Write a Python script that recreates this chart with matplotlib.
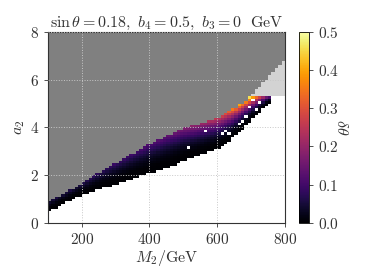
import numpy as np
import matplotlib
matplotlib.use("Agg")
import matplotlib.pyplot as plt
from matplotlib.colors import ListedColormap

plt.rcParams['font.family'] = 'serif'
plt.rcParams['font.serif'] = ['cmr10', 'DejaVu Serif']
plt.rcParams['mathtext.fontset'] = 'cm'
plt.rcParams['axes.formatter.use_mathtext'] = True

# Boundaries
m2_nodes = [100, 150, 200, 250, 300, 350, 400, 450, 500, 550, 600, 650, 700, 750, 800]
a2_upper = [0.85, 1.25, 1.65, 2.1, 2.5, 2.9, 3.3, 3.65, 3.95, 4.15, 4.4, 4.8, 5.3, 5.3, 5.3]
a2_lower = [0.45, 0.85, 1.15, 1.4, 1.6, 1.85, 2.08, 2.3, 2.6, 2.85, 3.1, 3.6, 4.3, 5.0, 5.3]
dtheta_top = [0.05, 0.06, 0.07, 0.08, 0.09, 0.10, 0.12, 0.14, 0.17, 0.21, 0.27, 0.37, 0.47, 0.17, 0.15]
light_nodes = [695, 800]
light_top = [5.3, 6.85]
holes_m2 = [520, 565, 615, 629, 638, 661, 671, 688, 706, 726, 697, 717]
holes_a2 = [3.2, 3.9, 3.8, 3.9, 3.75, 4.2, 4.3, 4.5, 5.2, 5.1, 4.85, 4.8]

m_edges = np.arange(100, 801, 10)
a_edges = np.arange(0, 8.01, 0.1)
mc = 0.5 * (m_edges[:-1] + m_edges[1:])
ac = 0.5 * (a_edges[:-1] + a_edges[1:])
M, A = np.meshgrid(mc, ac)

UP = np.interp(M, m2_nodes, a2_upper)
LO = np.interp(M, m2_nodes, a2_lower)
LT = np.interp(M, light_nodes, light_top)
DT = np.interp(M, m2_nodes, dtheta_top)

cat = np.ones_like(M)  # 1 = gray
colored = (A >= LO) & (A <= UP) & (M <= 762)
cat[A < LO] = 0
cat[(M > 762) & (A < 5.4)] = 0
light = (M >= 695) & (A > 5.3) & (A <= LT)
cat[light] = 2
cat[colored] = 0

frac = np.clip((A - LO) / np.maximum(UP - LO, 1e-6), 0, 1)
dtheta = DT * frac ** 2.2
dtheta = np.where(colored, dtheta, np.nan)
for hm, ha in zip(holes_m2, holes_a2):
    i = np.argmin(np.abs(ac - ha)); j = np.argmin(np.abs(mc - hm))
    dtheta[i, j] = np.nan

fig = plt.figure(figsize=(3.74, 2.8), dpi=100)
ax = fig.add_axes([0.128, 0.204, 0.634, 0.682])
cax = fig.add_axes([0.799, 0.204, 0.027, 0.682])

ax.pcolormesh(m_edges, a_edges, cat, cmap=ListedColormap(['white', '#808080', '#d3d3d3']),
              vmin=-0.5, vmax=2.5, rasterized=True)
pm = ax.pcolormesh(m_edges, a_edges, np.ma.masked_invalid(dtheta), cmap='inferno',
                   vmin=0, vmax=0.5, rasterized=True)
ax.set_xlim(100, 800)
ax.set_ylim(0, 8)
ax.set_xticks([200, 400, 600, 800])
ax.set_yticks([0, 2, 4, 6, 8])
ax.grid(True, color='#c8c8c8', linestyle=':', linewidth=0.7)
ax.set_axisbelow(False)
ax.tick_params(labelsize=11, length=3, width=0.6, colors='#333333')
for s in ax.spines.values():
    s.set_linewidth(0.8)
    s.set_color('#333333')
ax.set_xlabel(r'$M_2/\mathrm{GeV}$', fontsize=11.5, labelpad=1, color='#333333')
ax.set_ylabel(r'$a_2$', fontsize=11.5, labelpad=2, color='#333333')
ax.set_title(r'$\sin\theta = 0.18,\ b_4 = 0.5,\ b_3 = 0\ \ \mathrm{GeV}$', fontsize=11.5, pad=3, color='#333333')

cb = fig.colorbar(pm, cax=cax)
cb.set_ticks([0, 0.1, 0.2, 0.3, 0.4, 0.5])
cb.ax.tick_params(labelsize=11, length=3, width=0.6, colors='#333333')
cb.outline.set_linewidth(0.6)
cb.set_label(r'$\delta\theta$', rotation=270, fontsize=11.5, labelpad=7, color='#333333')

fig.savefig('out.png', dpi=100)
